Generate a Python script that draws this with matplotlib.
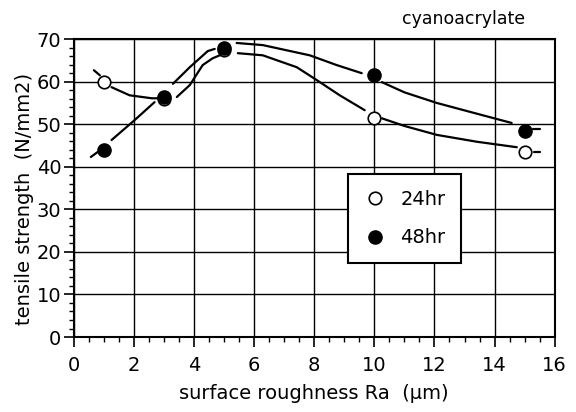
import matplotlib
matplotlib.use("Agg")
import matplotlib.pyplot as plt
from matplotlib.ticker import MultipleLocator
from matplotlib.lines import Line2D

plt.rcParams['font.family'] = ['DejaVu Sans']

# measured points
roughness = [1, 3, 5, 10, 15]
strength_24 = [60, 56, 67.5, 51.5, 43.5]
strength_48 = [44, 56.5, 68, 61.5, 48.5]

# hand drawn fit curves (segments broken at the markers)
curve_24_x = [[0.67, 0.87],
              [1.26, 1.86, 2.6, 2.8],
              [3.43, 3.86, 4.29, 4.62, 4.86],
              [5.46, 6.29, 7.42, 8.08, 8.85, 9.68],
              [10.25, 11.0, 12.08, 13.4, 14.74],
              [15.3, 15.5]]
curve_24_y = [[62.7, 61.5],
              [58.7, 56.8, 56.1, 56.1],
              [56.4, 59.2, 63.9, 65.5, 66.2],
              [66.7, 66.2, 63.4, 60.4, 56.8, 53.3],
              [51.4, 49.6, 47.5, 45.9, 44.6],
              [43.5, 43.5]]
curve_48_x = [[0.57, 0.8],
              [1.26, 2.03, 2.69],
              [3.3, 3.86, 4.46, 4.69],
              [5.42, 6.29, 7.85, 8.75, 9.58],
              [10.25, 11.0, 12.08, 13.4, 14.57],
              [15.27, 15.5]]
curve_48_y = [[42.3, 43.5],
              [46.3, 51.0, 55.2],
              [59.5, 63.4, 67.2, 67.7],
              [69.1, 68.6, 66.2, 63.9, 62.0],
              [59.9, 57.5, 55.0, 52.5, 50.3],
              [48.9, 48.9]]

fig = plt.figure(figsize=(5.76, 4.12), dpi=100)
ax = fig.add_axes([0.128, 0.182, 0.835, 0.723])

for xs, ys in zip(curve_24_x, curve_24_y):
    ax.plot(xs, ys, color='black', lw=1.6, solid_capstyle='round')
for xs, ys in zip(curve_48_x, curve_48_y):
    ax.plot(xs, ys, color='black', lw=1.6, solid_capstyle='round')

ax.plot(roughness, strength_24, 'o', ms=9, mfc='white', mec='black', mew=1.2, zorder=5)
ax.plot(roughness, strength_48, 'o', ms=9.5, mfc='black', mec='black', zorder=6)

ax.set_xlim(0, 16)
ax.set_ylim(0, 70)
ax.xaxis.set_major_locator(MultipleLocator(2))
ax.xaxis.set_minor_locator(MultipleLocator(0.5))
ax.yaxis.set_major_locator(MultipleLocator(10))
ax.yaxis.set_minor_locator(MultipleLocator(2))
ax.grid(True, which='major', color='black', lw=1.0)
ax.set_axisbelow(True)
for s in ax.spines.values():
    s.set_linewidth(1.5)
ax.tick_params(which='major', direction='out', length=7, width=1.2, labelsize=14)
ax.tick_params(which='minor', direction='out', length=3.5, width=1.0)
ax.tick_params(axis='x', which='major', pad=7)
ax.tick_params(axis='y', which='major', pad=2)

ax.set_xlabel("surface roughness Ra  (\u03bcm)", fontsize=14, labelpad=6)
ax.set_ylabel("tensile strength  (N/mm2)", fontsize=14)
ax.yaxis.set_label_coords(-0.082, 0.465)
fig.text(0.698, 0.955, "cyanoacrylate", fontsize=12.5, ha='left', va='center')

h24 = Line2D([], [], ls='none', marker='o', ms=9, mfc='white', mec='black', mew=1.2)
h48 = Line2D([], [], ls='none', marker='o', ms=9.5, mfc='black', mec='black')
leg = ax.legend([h24, h48], ["24hr", "48hr"], loc='center',
                bbox_to_anchor=(0.6875, 0.3975), fontsize=14, fancybox=False,
                framealpha=1, edgecolor='black', labelspacing=1.0,
                borderpad=0.8, handletextpad=0.7, handlelength=1.2)
leg.get_frame().set_linewidth(1.5)

fig.savefig("out.png", dpi=100)
